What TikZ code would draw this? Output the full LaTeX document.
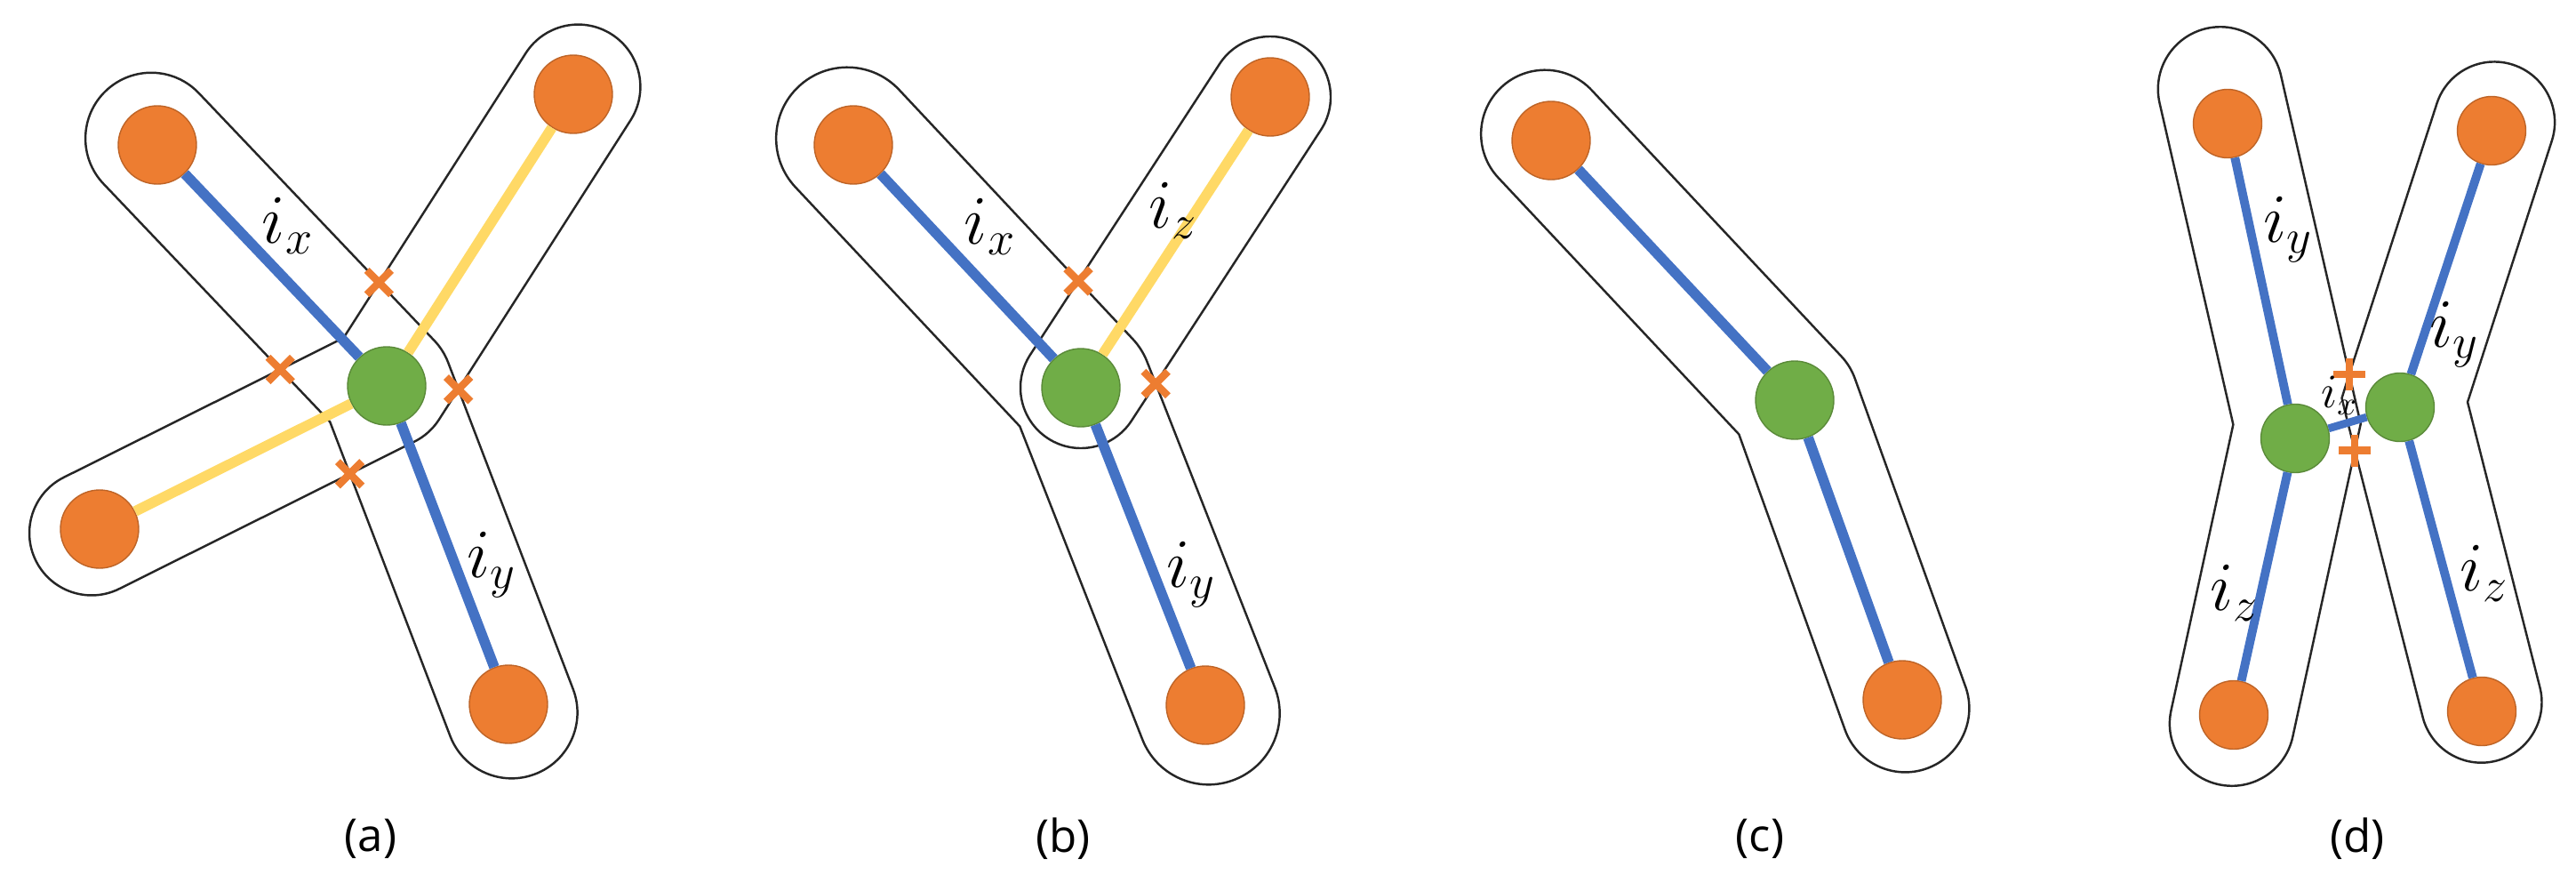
\documentclass[tikz,border=0pt]{standalone}
\usepackage{fontspec}
\newfontfamily\capfont{Open Sans}
\usepackage{tikz}
\usetikzlibrary{calc,intersections,shapes.misc}

\definecolor{dotorange}{HTML}{ED7D31}
\definecolor{dotgreen}{HTML}{70AD47}
\definecolor{linkblue}{HTML}{4472C4}
\definecolor{linkyellow}{HTML}{FFD966}

\def\capext{0.1cm}
% outer corner of a bent outline: round or sharp
\newcommand{\joinround}[2]{arc[start angle=\n1-90, end angle=\n2-90, radius=#2]}
\newcommand{\joinsharp}[2]{-- (#1out) -- (#1r3)}
% outline round a chain bent at its middle point (#3 -> #4 -> #5 turns left)
\newcommand{\bentcap}[6][round]{%
  \coordinate (#2s) at ($(#3)!\capext!180:(#4)$);
  \coordinate (#2e) at ($(#5)!\capext!180:(#4)$);
  \coordinate (#2l1) at ($(#3)!#6!90:(#4)$);
  \coordinate (#2l2) at ($(#4)!#6!-90:(#3)$);
  \coordinate (#2l3) at ($(#4)!#6!90:(#5)$);
  \coordinate (#2l4) at ($(#5)!#6!-90:(#4)$);
  \coordinate (#2r1) at ($(#3)!#6!-90:(#4)$);
  \coordinate (#2r2) at ($(#4)!#6!90:(#3)$);
  \coordinate (#2r3) at ($(#4)!#6!-90:(#5)$);
  \coordinate (#2r4) at ($(#5)!#6!90:(#4)$);
  \coordinate (#2in) at (intersection of #2l1--#2l2 and #2l3--#2l4);
  \coordinate (#2out) at (intersection of #2r1--#2r2 and #2r3--#2r4);
  \expandafter\let\expandafter\capjoin\csname join#1\endcsname
  \draw[outline, name path=#2] let \p1=($(#4)-(#3)$), \p2=($(#5)-(#4)$),
      \n1={atan2(\y1,\x1)}, \n2={atan2(\y2,\x2)} in
    (#2in) -- ($(#2s)+(\n1+90:#6)$) arc[start angle=\n1+90, delta angle=180, radius=#6]
    -- (#2r2) \capjoin{#2}{#6}
    -- ($(#2e)+(\n2-90:#6)$) arc[start angle=\n2-90, delta angle=180, radius=#6]
    -- cycle;
}
% outline round a straight chain
\newcommand{\straightcap}[4]{%
  \draw[outline, name path=#1] let \p1=($(#3)-(#2)$), \n1={atan2(\y1,\x1)} in
    ($(#2)+(\n1+90:#4)$) arc[start angle=\n1+90, delta angle=180, radius=#4]
    -- ($(#3)+(\n1-90:#4)$) arc[start angle=\n1-90, delta angle=180, radius=#4] -- cycle;
}

\begin{document}
\begin{tikzpicture}[
    odot/.style={circle, fill=dotorange, draw=dotorange!80!black, line width=0.4pt, minimum size=0.88cm, inner sep=0pt},
    gdot/.style={odot, fill=dotgreen, draw=dotgreen!80!black},
    small/.style={minimum size=0.77cm},
    blue link/.style={draw=linkblue, line width=3.3pt},
    yellow link/.style={draw=linkyellow, line width=3.3pt},
    outline/.style={draw=black!85, line width=0.7pt, line join=round},
    xmark/.style={cross out, draw=dotorange, line width=2.4pt, minimum size=0.19cm, inner sep=0pt},
    pmark/.style={xmark, minimum size=0.17cm, rotate=45},
    lbl/.style={font=\fontsize{20.74}{25}\selectfont, inner sep=0pt, scale=1.07, transform shape},
    sublabel/.style={font=\capfont\fontsize{14.5}{17}\selectfont, inner sep=0pt}
  ]
  \useasboundingbox (0,0) rectangle (28.98,9.92);

  % (a)
  \node[odot] (aTL) at (1.77,8.29) {};
  \node[odot] (aTR) at (6.45,8.86) {};
  \node[odot] (aL) at (1.12,3.97) {};
  \node[odot] (aBR) at (5.72,2.00) {};
  \node[gdot] (aG) at (4.35,5.58) {};
  \bentcap{aBlue}{aBR}{aG}{aTL}{0.74cm}
  \bentcap{aYel}{aL}{aG}{aTR}{0.70cm}
  \draw[blue link] (aTL) -- (aG);
  \draw[blue link] (aG) -- (aBR);
  \draw[yellow link] (aTR) -- (aG);
  \draw[yellow link] (aG) -- (aL);
  \path[name intersections={of=aBlue and aYel, total=\t}]
    \foreach \s in {1,...,\t} {node[xmark] (aX\s) at (intersection-\s) {}};
  \node[lbl] (aix) at (3.24,7.38) {$i_x$};
  \node[lbl] (aiy) at (5.53,3.57) {$i_y$};
  \node[sublabel] (acap) at (4.17,0.49) {(a)};

  % (b)
  \node[odot] (bTL) at (9.60,8.29) {};
  \node[odot] (bTR) at (14.29,8.83) {};
  \node[odot] (bBR) at (13.56,1.99) {};
  \node[gdot] (bG) at (12.16,5.56) {};
  \bentcap{bBlue}{bBR}{bG}{bTL}{0.80cm}
  \straightcap{bYel}{bTR}{bG}{0.68cm}
  \draw[blue link] (bTL) -- (bG);
  \draw[blue link] (bG) -- (bBR);
  \draw[yellow link] (bTR) -- (bG);
  \path[name intersections={of=bBlue and bYel, total=\t}]
    \foreach \s in {1,...,\t} {node[xmark] (bX\s) at (intersection-\s) {}};
  \node[lbl] (bix) at (11.14,7.37) {$i_x$};
  \node[lbl] (biz) at (13.20,7.55) {$i_z$};
  \node[lbl] (biy) at (13.40,3.46) {$i_y$};
  \node[sublabel] (bcap) at (11.96,0.49) {(b)};

  % (c)
  \node[odot] (cTL) at (17.45,8.34) {};
  \node[odot] (cBR) at (21.40,2.05) {};
  \node[gdot] (cG) at (20.19,5.42) {};
  \bentcap{cBlue}{cBR}{cG}{cTL}{0.72cm}
  \draw[blue link] (cTL) -- (cG);
  \draw[blue link] (cG) -- (cBR);
  \node[sublabel] (ccap) at (19.80,0.49) {(c)};

  % (d)
  \node[odot, small] (dTL) at (25.06,8.53) {};
  \node[odot, small] (dTR) at (28.03,8.45) {};
  \node[odot, small] (dBL) at (25.13,1.88) {};
  \node[odot, small] (dBR) at (27.92,1.92) {};
  \node[gdot, small] (dGL) at (25.82,4.99) {};
  \node[gdot, small] (dGR) at (27.00,5.34) {};
  \coordinate (dTLs) at (25.00,8.82);
  \coordinate (dLb) at (25.84,5.15);
  \coordinate (dRb) at (27.05,5.42);
  \coordinate (dBRs) at (27.89,2.12);
  \bentcap[sharp]{dLeft}{dBL}{dLb}{dTLs}{0.70cm}
  \bentcap[sharp]{dRight}{dTR}{dRb}{dBRs}{0.68cm}
  \draw[blue link, line width=2.8pt] (dTL) -- (dGL);
  \draw[blue link, line width=2.8pt] (dGL) -- (dBL);
  \draw[blue link, line width=2.8pt] (dTR) -- (dGR);
  \draw[blue link, line width=2.8pt] (dGR) -- (dBR);
  \draw[blue link, line width=2.5pt] (dGL) -- (dGR);
  \path[name intersections={of=dLeft and dRight, total=\t}]
    \foreach \s in {1,...,\t} {node[pmark] (dX\s) at (intersection-\s) {}};
  \node[lbl] (diyl) at (25.74,7.34) {$i_y$};
  \node[lbl] (dizl) at (25.14,3.25) {$i_z$};
  \node[lbl] (diyr) at (27.61,6.16) {$i_y$};
  \node[lbl] (dizr) at (27.95,3.47) {$i_z$};
  \node[lbl, font=\fontsize{14.4}{17}\selectfont] (dix) at (26.32,5.47) {$i_x$};
  \node[sublabel] (dcap) at (26.52,0.49) {(d)};
\end{tikzpicture}
\end{document}
